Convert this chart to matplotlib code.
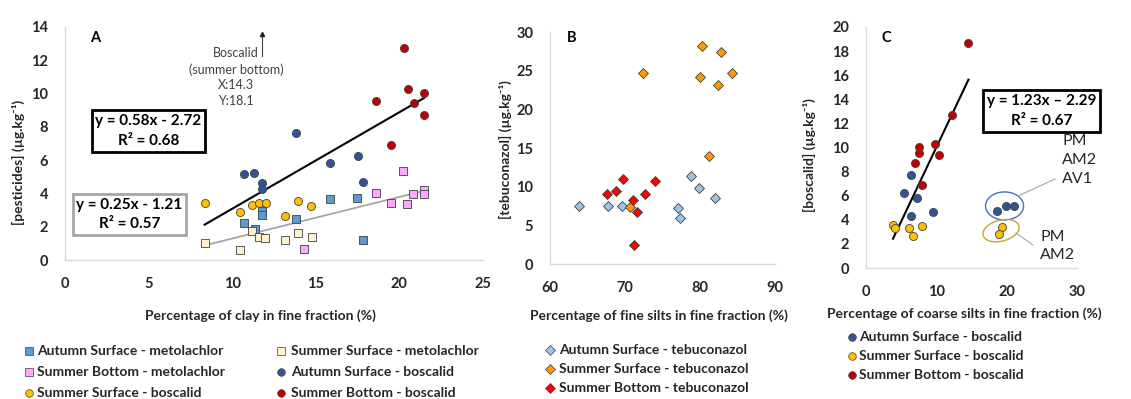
import matplotlib
matplotlib.use("Agg")
import matplotlib.pyplot as plt
import numpy as np
from matplotlib.patches import Ellipse
from matplotlib.lines import Line2D
from matplotlib.transforms import ScaledTranslation

plt.rcParams['font.family'] = ['Lato', 'DejaVu Sans']

# ---------------- Panel A data (clay %) ----------------
A_sb_bos_x = [20.26, 20.52, 21.47, 20.88, 18.6, 19.52, 21.47]
A_sb_bos_y = [12.74, 10.26, 10.06, 9.44, 9.58, 6.9, 8.7]
A_as_bos_x = [13.84, 10.72, 11.31, 11.81, 11.81, 15.84, 17.53, 17.81]
A_as_bos_y = [7.66, 5.14, 5.2, 4.64, 4.28, 5.8, 6.24, 4.7]
A_ss_bos_x = [8.37, 10.48, 11.2, 11.61, 12.01, 13.15, 13.92, 14.74]
A_ss_bos_y = [3.4, 2.86, 3.3, 3.42, 3.42, 2.64, 3.54, 3.26]
A_as_met_x = [10.7, 11.35, 11.79, 11.79, 13.84, 15.82, 17.49, 17.81]
A_as_met_y = [2.22, 1.88, 2.94, 2.7, 2.44, 3.68, 3.74, 1.18]
A_ss_met_x = [8.35, 10.44, 11.2, 11.59, 11.99, 13.17, 13.92, 14.76]
A_ss_met_y = [1.02, 0.6, 1.74, 1.4, 1.32, 1.2, 1.64, 1.36]
A_sbm_x = [20.22, 18.59, 19.5, 20.48, 20.82, 21.47, 21.47, 14.3]
A_sbm_y = [5.36, 4.04, 3.44, 3.38, 3.98, 4.2, 3.98, 0.68]
A_fit_bos = (0.58, -2.72)
A_fit_met = (0.25, -1.21)
A_fit_range = (8.35, 21.47)

# ---------------- Panel B data (fine silts %) ----------------
B_as_x = [63.8, 67.7, 69.6, 77.1, 77.3, 78.8, 79.9, 82.0]
B_as_y = [7.56, 7.56, 7.56, 7.22, 5.93, 11.39, 9.84, 8.55]
B_ss_x = [80.2, 82.8, 72.4, 80.0, 84.3, 82.4, 81.2, 70.6]
B_ss_y = [28.23, 27.42, 24.75, 24.19, 24.75, 23.12, 13.97, 7.43]
B_sb_x = [67.6, 68.8, 69.7, 71.1, 71.6, 72.7, 74.0, 71.2]
B_sb_y = [9.02, 9.41, 10.96, 8.25, 6.66, 9.07, 10.79, 2.41]

# ---------------- Panel C data (coarse silts %) ----------------
C_sb_x = [14.57, 12.29, 9.87, 7.59, 7.59, 10.39, 7.02, 7.97]
C_sb_y = [18.67, 12.72, 10.26, 10.04, 9.57, 9.41, 8.71, 6.89]
C_as_x = [6.45, 5.36, 7.31, 6.41, 9.59, 18.56, 19.89, 21.03]
C_as_y = [7.69, 6.22, 5.81, 4.29, 4.62, 4.70, 5.15, 5.15]
C_ss_x = [3.84, 4.13, 6.12, 6.74, 7.97, 19.36, 18.98]
C_ss_y = [3.54, 3.29, 3.29, 2.63, 3.46, 3.37, 2.85]
C_fit = (1.23, -2.29)
C_fit_range = (3.84, 14.57)

# colours
c_dblue = '#2F5597'
c_red = '#C00000'
c_yel = '#FFC000'
c_lblue_sq = '#5B9BD5'
c_cream = '#FFF2CC'
c_pink = '#FFA6FF'
c_dia_lb = '#9DC3E6'
c_dia_or = '#FF9900'
c_dia_red = '#FF0000'
edge = '#404040'

W, H = 1131, 399
fig = plt.figure(figsize=(W / 100, H / 100), dpi=100)


def px_axes(l, t, r, b):
    return fig.add_axes([l / W, 1 - b / H, (r - l) / W, (b - t) / H])


def style(ax):
    for s in ['top', 'right']:
        ax.spines[s].set_visible(False)
    for s in ['left', 'bottom']:
        ax.spines[s].set_color('#D9D9D9')
        ax.spines[s].set_linewidth(1.0)
    ax.tick_params(length=0, labelsize=10.5, colors='#000000', pad=12)
    for lab in ax.get_xticklabels() + ax.get_yticklabels():
        lab.set_fontweight('bold')
        lab.set_color('#262626')


ms = 5.6
axA = px_axes(65, 27, 483, 260)
axA.set_xlim(0, 25)
axA.set_ylim(0, 14)
axA.set_xticks(np.arange(0, 26, 5))
axA.set_yticks(np.arange(0, 15, 2))
xs = np.array(A_fit_range)
axA.plot(xs, A_fit_bos[0] * xs + A_fit_bos[1], color='black', lw=1.5, zorder=2)
axA.plot(xs, A_fit_met[0] * xs + A_fit_met[1], color='#A6A6A6', lw=1.3, zorder=2)
sq = dict(marker='s', ls='none', ms=ms - 0.4, mec=edge, mew=0.6, zorder=3)
ci = dict(marker='o', ls='none', ms=ms + 0.2, mec=edge, mew=0.6, zorder=4)
axA.plot(A_as_met_x, A_as_met_y, mfc=c_lblue_sq, **sq)
axA.plot(A_ss_met_x, A_ss_met_y, mfc=c_cream, **sq)
axA.plot(A_sbm_x, A_sbm_y, mfc=c_pink, **sq)
axA.plot(A_ss_bos_x, A_ss_bos_y, mfc=c_yel, **ci)
axA.plot(A_as_bos_x, A_as_bos_y, mfc=c_dblue, **ci)
axA.plot(A_sb_bos_x, A_sb_bos_y, mfc=c_red, **ci)
style(axA)

axB = px_axes(550, 32, 775, 264)
axB.set_xlim(60, 90)
axB.set_ylim(0, 30)
axB.set_xticks([60, 70, 80, 90])
axB.set_yticks(np.arange(0, 31, 5))
di = dict(marker='D', ls='none', ms=5.0, mec=edge, mew=0.6, zorder=3)
axB.plot(B_as_x, B_as_y, mfc=c_dia_lb, **di)
axB.plot(B_ss_x, B_ss_y, mfc=c_dia_or, **di)
axB.plot(B_sb_x, B_sb_y, mfc=c_dia_red, **di)
style(axB)

axC = px_axes(866, 27, 1077, 268)
axC.set_xlim(0, 30)
axC.set_ylim(0, 20)
axC.set_xticks([0, 10, 20, 30])
axC.set_yticks(np.arange(0, 21, 2))
xs = np.array(C_fit_range)
axC.plot(xs, C_fit[0] * xs + C_fit[1], color='black', lw=1.5, zorder=2)
axC.plot(C_ss_x, C_ss_y, mfc=c_yel, **ci)
axC.plot(C_as_x, C_as_y, mfc=c_dblue, **ci)
axC.plot(C_sb_x, C_sb_y, mfc=c_red, **ci)
style(axC)

# ellipses in pixel size, centred in data coords
e1 = Ellipse((0, 0), 0.38, 0.28, angle=0, fill=False, ec='#4472C4', lw=1.0,
             transform=fig.dpi_scale_trans + ScaledTranslation(19.7, 5.15, axC.transData), clip_on=False)
e2 = Ellipse((0, 0), 0.37, 0.21, angle=15, fill=False, ec='#C9A227', lw=1.0,
             transform=fig.dpi_scale_trans + ScaledTranslation(19.2, 3.1, axC.transData), clip_on=False)
axC.add_patch(e1)
axC.add_patch(e2)


def fx(x):
    return x / W


def fy(y):
    return 1 - y / H


fig.add_artist(Line2D([fx(1018), fx(1055)], [fy(196), fy(179)], color='#A6A6A6', lw=0.8))
fig.add_artist(Line2D([fx(1016), fx(1033)], [fy(233), fy(245)], color='#A6A6A6', lw=0.8))
fig.text(fx(1062), fy(160), 'PM\nAM2\nAV1', fontsize=11.5, color='#262626', va='center', ha='left',
         linespacing=1.45)
fig.text(fx(1040), fy(246), 'PM\nAM2', fontsize=11.5, color='#262626', va='center', ha='left',
         linespacing=1.45)


# equation boxes
def eqbox(cx, cy, text, ec, lw):
    fig.text(fx(cx), fy(cy), text, fontsize=11, fontweight='bold', ha='center', va='center',
             color='black', linespacing=1.5,
             bbox=dict(boxstyle='square,pad=0.25', fc='white', ec=ec, lw=lw))


eqbox(148.5, 131, 'y = 0.58x - 2.72\nR² = 0.68', 'black', 2.0)
eqbox(129.5, 214.5, 'y = 0.25x - 1.21\nR² = 0.57', '#A6A6A6', 2.0)
eqbox(1041.5, 111, 'y = 1.23x – 2.29\nR² = 0.67', 'black', 2.0)

# panel letters
fig.text(fx(95), fy(38), 'A', fontsize=10.5, fontweight='bold', ha='center', va='center')
fig.text(fx(572), fy(38), 'B', fontsize=10.5, fontweight='bold', ha='center', va='center')
fig.text(fx(886), fy(38), 'C', fontsize=10.5, fontweight='bold', ha='center', va='center')

# annotation in A
fig.text(fx(236), fy(77), 'Boscalid\n(summer bottom)\nX:14.3\nY:18.1', fontsize=9, ha='center',
         va='center', color='#404040', linespacing=1.35)
fig.add_artist(Line2D([fx(262), fx(262)], [fy(56), fy(36)], color='#404040', lw=0.8))
fig.add_artist(Line2D([fx(262)], [fy(34)], marker='^', ms=3, color='#202020', ls='none'))

# axis labels
lab = dict(fontsize=10, fontweight='bold', color='#262626', ha='center', va='center')
fig.text(fx(260), fy(316), 'Percentage of clay in fine fraction (%)', **lab)
fig.text(fx(659), fy(316), 'Percentage of fine silts in fine fraction (%)', **lab)
fig.text(fx(964), fy(314), 'Percentage of coarse silts in fine fraction (%)', **lab)
fig.text(fx(18), fy(162), '[pesticides] (µg.kg⁻¹)', rotation=90, **lab)
fig.text(fx(505), fy(150), '[tebuconazol] (µg.kg⁻¹)', rotation=90, **lab)
fig.text(fx(809), fy(155), '[boscalid] (µg.kg⁻¹)', rotation=90, **lab)

# legends
leg_fs = 10


def leg_item(mx, tx, y, marker, fc, text, size):
    fig.add_artist(Line2D([fx(mx)], [fy(y)], marker=marker, ls='none', ms=size, mfc=fc, mec=edge, mew=0.5))
    fig.text(fx(tx), fy(y), text, fontsize=leg_fs, fontweight='bold', color='#262626', ha='left', va='center')


for y, m, fc, t in [(351, 's', c_lblue_sq, 'Autumn Surface - metolachlor'),
                    (372, 's', c_pink, 'Summer Bottom - metolachlor'),
                    (393, 'o', c_yel, 'Summer Surface - boscalid')]:
    leg_item(29, 37, y, m, fc, t, 5.5)
for y, m, fc, t in [(351, 's', c_cream, 'Summer Surface - metolachlor'),
                    (372, 'o', c_dblue, 'Autumn Surface - boscalid'),
                    (393, 'o', c_red, 'Summer Bottom - boscalid')]:
    leg_item(281, 291, y, m, fc, t, 5.5)
for y, fc, t in [(350, c_dia_lb, 'Autumn Surface - tebuconazol'),
                 (369, c_dia_or, 'Summer Surface - tebuconazol'),
                 (388, c_dia_red, 'Summer Bottom - tebuconazol')]:
    leg_item(550, 559, y, 'D', fc, t, 5)
for y, fc, t in [(337, c_dblue, 'Autumn Surface - boscalid'),
                 (356, c_yel, 'Summer Surface - boscalid'),
                 (375, c_red, 'Summer Bottom - boscalid')]:
    leg_item(852, 859, y, 'o', fc, t, 5.5)

fig.savefig('out.png', dpi=100)
